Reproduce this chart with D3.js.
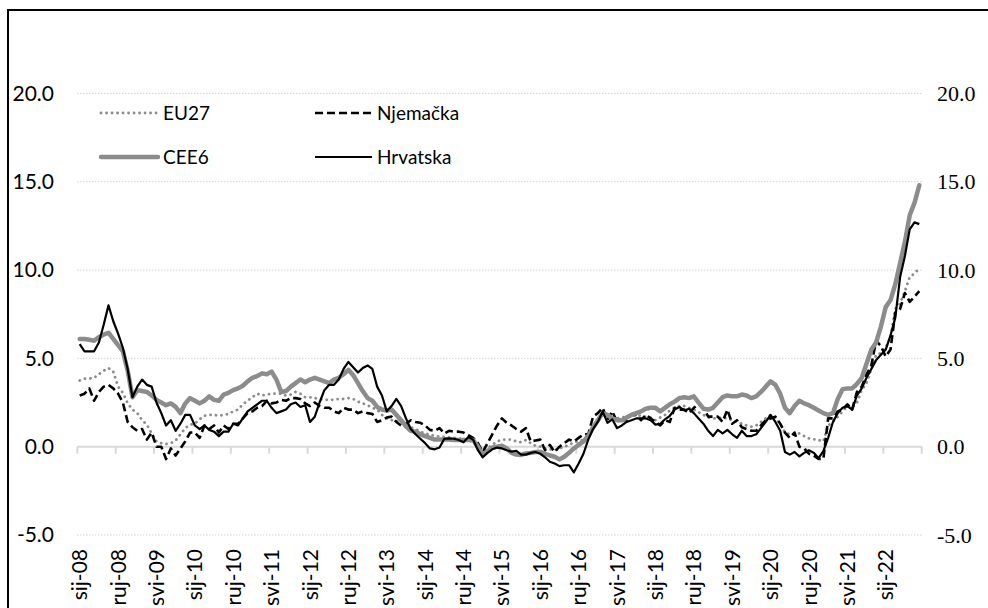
<!DOCTYPE html>
<html>
<head>
<meta charset="utf-8">
<script src="https://cdn.jsdelivr.net/npm/d3@7/dist/d3.min.js"></script>
<style>
    html, body { margin: 0; padding: 0; background: #fff; overflow: hidden; }
    svg { display: block; }
</style>
</head>
<body>
<svg id="chart" width="988" height="608"></svg>
<script>
// Categories: monthly, sij-08 .. kol-22
const monthNames = ['sij', 'velj', 'ožu', 'tra', 'svi', 'lip', 'srp', 'kol', 'ruj', 'lis', 'stu', 'pro'];
const years = ['08', '09', '10', '11', '12', '13', '14', '15', '16', '17', '18', '19', '20', '21', '22'];
const categories = [];
years.forEach(yy => monthNames.forEach(m => categories.push(`${m}-${yy}`)));
categories.splice(176); // data ends in kol-22

const yTicks = [-5, 0, 5, 10, 15, 20];

// Series (annual % change)
const eu27 = [
    3.75, 3.85, 3.85, 3.9, 4.1, 4.3, 4.45, 4.25, 3.4, 3.05, 2.45, 2.1,
    1.9, 1.5, 1.25, 0.75, 0.3, 0.2, 0.15, 0.2, 0.35, 0.7, 1.05, 1.25,
    1.3, 1.55, 1.75, 1.8, 1.8, 1.75, 1.8, 1.85, 2.0, 2.1, 2.4, 2.6,
    2.8, 3.0, 2.9, 2.95, 3.0, 3.0, 3.0, 2.9, 2.95, 3.1, 3.0, 2.8,
    2.8, 2.75, 2.7, 2.65, 2.65, 2.65, 2.7, 2.7, 2.75, 2.7, 2.55, 2.45,
    2.35, 2.2, 2.1, 1.8, 1.6, 1.5, 1.45, 1.4, 1.25, 1.1, 1.0, 0.85,
    0.75, 0.68, 0.62, 0.57, 0.55, 0.53, 0.5, 0.47, 0.42, 0.38, 0.25, 0.0,
    -0.1, -0.1, 0.1, 0.3, 0.4, 0.4, 0.4, 0.3, 0.25, 0.38, 0.2, 0.05,
    0.0, -0.1, -0.15, -0.2, -0.1, 0.0, 0.1, 0.25, 0.3, 0.4, 0.6, 1.1,
    1.4, 1.8, 1.7, 1.65, 1.6, 1.65, 1.7, 1.75, 1.8, 1.75, 1.7, 1.65,
    1.5, 1.65, 1.8, 2.05, 2.2, 2.3, 2.3, 2.2, 2.1, 1.95, 1.8, 1.65,
    1.6, 1.6, 1.65, 1.6, 1.5, 1.4, 1.3, 1.2, 1.13, 1.2, 1.4, 1.6,
    1.8, 1.6, 1.3, 0.8, 0.7, 0.7, 0.75, 0.6, 0.47, 0.42, 0.38, 0.3,
    1.2, 1.4, 1.7, 2.0, 2.3, 2.2, 2.5, 3.2, 3.6, 4.4, 5.2, 5.3,
    5.6, 6.2, 7.8, 8.1, 8.8, 9.6, 9.8, 10.1
];
const njemacka = [
    2.9, 3.0, 3.3, 2.6, 3.1, 3.4, 3.5, 3.3, 3.0, 2.5, 1.4, 1.1,
    0.9, 1.0, 0.4, 0.8, 0.0, 0.0, -0.7, -0.1, -0.5, -0.1, 0.3, 0.8,
    0.8, 0.5, 1.2, 1.0, 1.2, 0.8, 1.2, 1.0, 1.3, 1.3, 1.6, 1.9,
    2.0, 2.2, 2.3, 2.6, 2.45, 2.5, 2.65, 2.6, 2.75, 2.75, 2.7, 2.45,
    2.3, 2.5, 2.3, 2.2, 2.2, 2.0, 1.9, 2.2, 2.1, 2.1, 1.9, 2.0,
    1.9, 1.85, 1.4, 1.5, 1.65, 1.7, 1.4, 1.2, 1.3, 1.5, 1.4, 1.35,
    1.2, 0.95, 0.9, 1.05, 0.75, 0.9, 0.85, 0.85, 0.8, 0.65, 0.5, 0.2,
    -0.3, 0.2, 0.7, 1.2, 1.6, 1.35, 1.2, 1.0, 0.85, 1.05, 0.3, 0.35,
    0.4, -0.2, 0.1, -0.3, 0.0, 0.2, 0.4, 0.3, 0.5, 0.7, 0.7, 1.7,
    1.9, 2.2, 1.5, 2.0, 1.4, 1.5, 1.5, 1.8, 1.8, 1.5, 1.8, 1.6,
    1.4, 1.2, 1.5, 1.4, 2.2, 2.1, 2.1, 1.9, 2.2, 2.4, 2.2, 1.7,
    1.7, 1.7, 1.4, 2.1, 1.3, 1.5, 1.1, 1.0, 0.9, 0.9, 1.2, 1.5,
    1.6, 1.7, 1.3, 0.8, 0.5, 0.8, 0.0, -0.1, -0.4, -0.5, -0.7, -0.7,
    1.6, 1.6, 2.0, 2.1, 2.4, 2.1, 3.1, 3.4, 4.1, 4.6, 6.0, 5.7,
    5.1, 5.5, 7.6, 7.8, 8.7, 8.2, 8.5, 8.8
];
const cee6 = [
    6.1, 6.1, 6.05, 6.0, 6.2, 6.35, 6.45, 6.1, 5.75, 5.4, 4.3, 2.8,
    3.2, 3.15, 3.1, 2.9, 2.65, 2.5, 2.35, 2.45, 2.25, 1.9, 2.45, 2.75,
    2.6, 2.45, 2.6, 2.85, 2.65, 2.6, 2.95, 3.05, 3.2, 3.3, 3.45, 3.7,
    3.9, 4.0, 4.15, 4.1, 4.25, 3.8, 3.1, 3.15, 3.4, 3.6, 3.8, 3.65,
    3.8, 3.9, 3.8, 3.7, 3.6, 3.8, 3.9, 4.1, 4.35, 4.05, 3.6, 3.15,
    2.75, 2.6, 2.25, 2.1, 2.05, 2.1, 1.8, 1.5, 1.15, 0.9, 0.85, 0.7,
    0.6, 0.5, 0.4, 0.4, 0.4, 0.4, 0.38, 0.38, 0.38, 0.38, 0.38, 0.0,
    -0.45, -0.25, -0.05, 0.0, 0.05, -0.1, -0.35, -0.45, -0.47, -0.38, -0.35, -0.3,
    -0.3, -0.4, -0.5, -0.57, -0.72, -0.57, -0.35, -0.1, 0.1, 0.3, 0.6, 1.1,
    1.5, 1.9, 1.8, 1.6, 1.5, 1.5, 1.65, 1.8, 1.9, 2.0, 2.15, 2.2,
    2.2, 2.0, 2.2, 2.4, 2.55, 2.75, 2.8, 2.75, 2.85, 2.5, 2.15, 2.1,
    2.2, 2.5, 2.8, 2.9, 2.85, 2.85, 2.95, 2.9, 2.75, 2.85, 3.1, 3.4,
    3.7, 3.5, 3.0, 2.2, 1.9, 2.3, 2.6, 2.45, 2.35, 2.2, 2.05, 1.9,
    1.8, 1.9, 2.7, 3.25, 3.3, 3.3, 3.55, 3.9, 4.7, 5.5, 5.9, 6.8,
    7.9, 8.3, 9.2, 10.4, 11.6, 13.1, 13.8, 14.8
];
const hrvatska = [
    5.8, 5.4, 5.4, 5.4, 5.9, 6.9, 8.0, 7.1, 6.4, 5.6, 4.4, 2.8,
    3.4, 3.8, 3.5, 3.4, 2.5, 1.9, 1.2, 1.5, 0.9, 1.3, 1.8, 1.8,
    1.2, 1.0, 1.2, 0.95, 0.85, 0.6, 0.85, 0.85, 1.3, 1.2, 1.6, 2.0,
    2.2, 2.4, 2.6, 2.6, 2.2, 1.9, 2.0, 2.1, 2.4, 2.5, 2.25, 2.35,
    1.4, 1.7, 2.5, 3.2, 3.5, 3.5, 3.8, 4.4, 4.8, 4.5, 4.2, 4.45,
    4.6, 4.4, 3.4, 2.9, 2.0, 2.3, 2.7, 2.3, 1.6, 1.0, 0.7, 0.45,
    0.2, -0.1, -0.15, -0.05, 0.45, 0.47, 0.45, 0.38, 0.25, 0.55, 0.4, -0.2,
    -0.6, -0.35, -0.15, -0.05, -0.1, -0.2, -0.28, -0.23, -0.45, -0.45, -0.35, -0.3,
    -0.4, -0.6, -0.85, -0.95, -1.1, -1.05, -1.05, -1.45, -0.95, -0.4, 0.4, 1.0,
    1.4, 2.0, 1.35, 1.55, 1.05, 1.2, 1.4, 1.5, 1.6, 1.6, 1.6, 1.5,
    1.25, 1.3, 1.55, 1.75, 2.1, 2.25, 2.05, 2.15, 1.9, 1.6, 1.3, 0.9,
    0.6, 0.95, 0.75, 0.95, 0.7, 0.5, 0.9, 0.6, 0.6, 0.7, 1.05, 1.4,
    1.8, 1.4, 0.9, -0.3, -0.45, -0.3, -0.55, -0.35, -0.2, -0.35, -0.65, -0.25,
    0.5, 1.4, 1.9, 2.2, 2.3, 2.1, 2.9, 3.3, 3.9, 4.4, 4.9, 5.2,
    5.5, 6.3, 7.3, 9.6, 10.8, 12.3, 12.7, 12.6
];

const series = [
    { name: 'EU27', values: eu27, color: '#8c8c8c', width: 2.8, dash: '0.1,5.4', cap: 'round' },
    { name: 'Njemačka', values: njemacka, color: '#000', width: 2.6, dash: '8,4', cap: 'butt' },
    { name: 'CEE6', values: cee6, color: '#8c8c8c', width: 4.5, dash: null, cap: 'round' },
    { name: 'Hrvatska', values: hrvatska, color: '#000', width: 2.2, dash: null, cap: 'butt' }
];

const sansFont = 'Lato, "Open Sans", sans-serif';
const serifFont = '"Liberation Serif", "Times New Roman", serif';

const svg = d3.select('#chart');

// Outer frame (runs past the right and bottom edges)
svg.append('rect')
    .attr('x', 8).attr('y', 10).attr('width', 1000).attr('height', 640)
    .attr('fill', 'none').attr('stroke', '#000').attr('stroke-width', 2);

const x = d3.scaleBand().domain(categories).range([77.3, 921.7]).padding(0);
const y = d3.scaleLinear().domain([-5, 20]).range([535, 93.4]);
const cx = c => x(c) + x.bandwidth() / 2;

// Gridlines
svg.append('g').selectAll('line')
    .data(yTicks.filter(t => t !== 0))
    .enter().append('line')
    .attr('x1', 77.3).attr('x2', 921.7)
    .attr('y1', d => y(d)).attr('y2', d => y(d))
    .attr('stroke', '#bdbdbd').attr('stroke-width', 1)
    .attr('stroke-dasharray', '1,2');

// Left and right value axes
const fmt = d => d.toFixed(1);
const leftAxis = svg.append('g')
    .attr('transform', 'translate(54,0)')
    .call(d3.axisLeft(y).tickValues(yTicks).tickFormat(fmt).tickSize(0).tickPadding(0));
leftAxis.select('.domain').remove();
leftAxis.selectAll('text')
    .style('font-family', sansFont).style('font-size', '21px').style('fill', '#000');

const rightAxis = svg.append('g')
    .attr('transform', 'translate(937,0)')
    .call(d3.axisRight(y).tickValues(yTicks).tickFormat(fmt).tickSize(0).tickPadding(0));
rightAxis.select('.domain').remove();
rightAxis.selectAll('text')
    .style('font-family', serifFont).style('font-size', '22px').style('fill', '#000');

// Zero line with tick marks at every 8th month boundary
const tickCats = categories.filter((c, i) => i % 8 === 0);
const zeroAxis = svg.append('g');
zeroAxis.append('line')
    .attr('x1', 77.3).attr('x2', 921.7)
    .attr('y1', y(0)).attr('y2', y(0))
    .attr('stroke', '#d9d9d9').attr('stroke-width', 2);
zeroAxis.selectAll('line.tk')
    .data(tickCats.map(c => x(c)).concat([x.range()[1]]))
    .enter().append('line')
    .attr('class', 'tk')
    .attr('x1', d => d).attr('x2', d => d)
    .attr('y1', y(0)).attr('y2', y(0) + 7)
    .attr('stroke', '#d9d9d9').attr('stroke-width', 2);

// Category labels (low position, rotated)
const xAxis = svg.append('g')
    .attr('transform', 'translate(0,549)')
    .call(d3.axisBottom(x).tickValues(tickCats).tickSize(0).tickPadding(0));
xAxis.select('.domain').remove();
xAxis.selectAll('text')
    .style('font-family', sansFont).style('font-size', '21px').style('fill', '#000')
    .attr('transform', 'rotate(-90)')
    .attr('text-anchor', 'end')
    .attr('x', 0).attr('y', 0).attr('dx', 0).attr('dy', '0.36em');

// Series lines
const line = d3.line()
    .x((d, i) => cx(categories[i]))
    .y(d => y(d));

svg.append('g').selectAll('path')
    .data(series)
    .enter().append('path')
    .attr('d', d => line(d.values))
    .attr('fill', 'none')
    .attr('stroke', d => d.color)
    .attr('stroke-width', d => d.width)
    .attr('stroke-dasharray', d => d.dash)
    .attr('stroke-linecap', d => d.cap)
    .attr('stroke-linejoin', 'round');

// Legend
const legendPos = [
    { x: 101, y: 113 },
    { x: 315, y: 113 },
    { x: 101, y: 157 },
    { x: 315, y: 157 }
];
const legend = svg.append('g').selectAll('g')
    .data(series)
    .enter().append('g')
    .attr('transform', (d, i) => `translate(${legendPos[i].x},${legendPos[i].y})`);
legend.append('line')
    .attr('x1', 0).attr('x2', 57).attr('y1', 0).attr('y2', 0)
    .attr('stroke', d => d.color)
    .attr('stroke-width', d => d.width)
    .attr('stroke-dasharray', d => d.dash)
    .attr('stroke-linecap', d => d.cap);
legend.append('text')
    .attr('x', 62).attr('dy', '0.35em')
    .style('font-family', sansFont).style('font-size', '19px').style('fill', '#000')
    .text(d => d.name);
</script>
</body>
</html>
